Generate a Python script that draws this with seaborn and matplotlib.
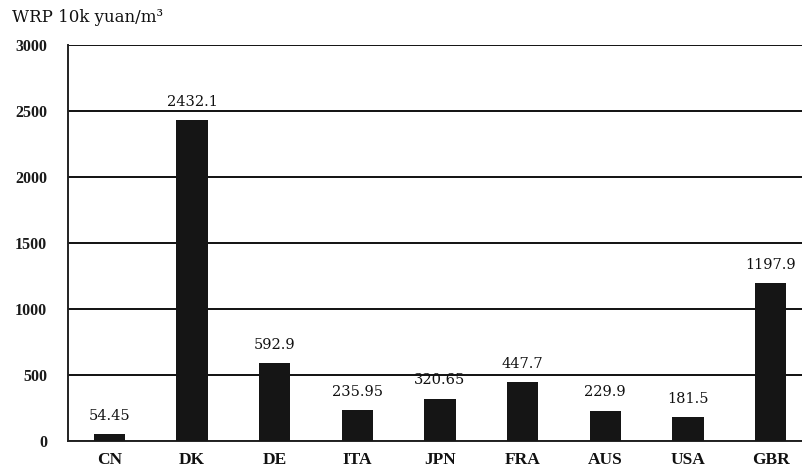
import matplotlib
matplotlib.use("Agg")
import matplotlib.pyplot as plt
import seaborn as sns
import pandas as pd
import numpy as np

countries = ["CN", "DK", "DE", "ITA", "JPN", "FRA", "AUS", "USA", "GBR"]
wrp = [54.45, 2432.1, 592.9, 235.95, 320.65, 447.7, 229.9, 181.5, 1197.9]
value_labels = ["54.45", "2432.1", "592.9", "235.95", "320.65", "447.7", "229.9", "181.5", "1197.9"]
y_ticks = [0, 500, 1000, 1500, 2000, 2500, 3000]

df = pd.DataFrame({"country": countries, "wrp": wrp})

sns.set_style("white")
fig = plt.figure(figsize=(8.02, 4.73), dpi=100)
ax = fig.add_axes([68 / 802, 1 - 441 / 473, 1 - 68 / 802, (441 - 45) / 473])

sns.barplot(data=df, x="country", y="wrp", color="#151515", width=0.38,
            saturation=1, edgecolor="#151515", linewidth=0, ax=ax, zorder=3)

ax.set_ylim(0, 3000)
ax.set_xlim(-0.5, 8.38)
ax.set_yticks(y_ticks)
ax.set_yticklabels([str(t) for t in y_ticks], fontfamily="Liberation Serif",
                   fontweight="bold", fontsize=11.5, color="#1a1a1a")
ax.yaxis.grid(True, color="#111111", linewidth=1.4, zorder=0)
ax.set_axisbelow(True)
ax.tick_params(axis="y", length=0, pad=15)

ax.set_xticks(range(len(countries)))
ax.set_xticklabels(countries, fontfamily="Liberation Serif", fontweight="bold",
                   fontsize=12.5, color="#111111")
ax.set_xticks(np.arange(0.5, len(countries) - 1, 1.0), minor=True)
ax.tick_params(axis="x", which="major", length=0, pad=8)
ax.tick_params(axis="x", which="minor", length=4, width=1.2, direction="in", color="#222222")
ax.set_xlabel("")
ax.set_ylabel("")

for side in ["top", "right"]:
    ax.spines[side].set_visible(False)
for side in ["left", "bottom"]:
    ax.spines[side].set_color("#222222")
    ax.spines[side].set_linewidth(1.4)

for i, (v, lab) in enumerate(zip(wrp, value_labels)):
    ax.text(i, v + 85, lab, ha="center", va="bottom", fontfamily="DejaVu Serif",
            fontsize=10.5, color="#111111")

fig.text(12 / 802, 1 - 18 / 473, "WRP 10k yuan/m³", ha="left", va="center",
         fontfamily="DejaVu Serif", fontsize=12, color="#111111")

fig.savefig("out.png", dpi=100)
